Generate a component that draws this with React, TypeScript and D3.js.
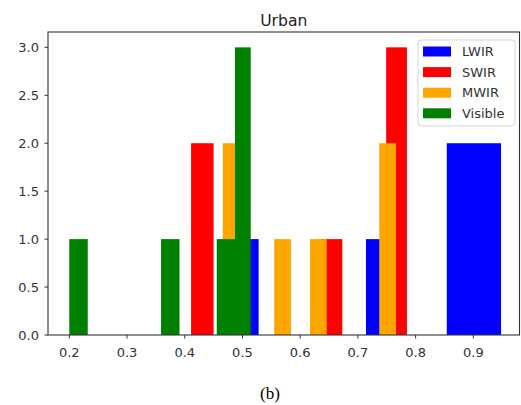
import React from 'react';
import { scaleLinear } from 'd3';

// histogram bins: left edge, right edge, count
const lwirStart = [0.481, 0.714, 0.854];
const lwirEnd = [0.528, 0.761, 0.948];
const lwirCount = [1, 1, 2];

const swirStart = [0.411, 0.636, 0.749];
const swirEnd = [0.45, 0.673, 0.785];
const swirCount = [2, 1, 3];

const mwirStart = [0.466, 0.555, 0.617, 0.737];
const mwirEnd = [0.495, 0.584, 0.646, 0.766];
const mwirCount = [2, 1, 1, 2];

const visStart = [0.2, 0.359, 0.4555, 0.487];
const visEnd = [0.232, 0.391, 0.487, 0.5143];
const visCount = [1, 1, 1, 3];

const seriesNames = ['LWIR', 'SWIR', 'MWIR', 'Visible'];
const seriesColors = ['#0000ff', '#ff0000', '#ffa500', '#008000'];

const xTicks = [0.2, 0.3, 0.4, 0.5, 0.6, 0.7, 0.8, 0.9];
const yTicks = [0, 0.5, 1, 1.5, 2, 2.5, 3];

const width = 521;
const height = 405;
const margin = { top: 32, right: 1.5, bottom: 70, left: 48 };
const plotRight = width - margin.right;
const plotBottom = height - margin.bottom;

const series = [
  { start: lwirStart, end: lwirEnd, count: lwirCount },
  { start: swirStart, end: swirEnd, count: swirCount },
  { start: mwirStart, end: mwirEnd, count: mwirCount },
  { start: visStart, end: visEnd, count: visCount },
];

export default function App() {
  const xScale = scaleLinear().domain([0.1631, 0.98]).range([margin.left, plotRight]);
  const yScale = scaleLinear().domain([0, 3.16]).range([plotBottom, margin.top]);

  const font = 'DejaVu Sans, sans-serif';
  const axisColor = '#333';

  return (
    <svg
      width={width}
      height={height}
      style={{ position: 'absolute', left: 0, top: 0, background: '#fff' }}>
      <text
        x={(margin.left + plotRight) / 2}
        y={25.5}
        textAnchor='middle'
        fontFamily={font}
        fontSize={15.6}
        fill='#222'>
        Urban
      </text>

      {series.map((s, si) =>
        s.start.map((x0, i) => (
          <rect
            key={`${si}-${i}`}
            x={xScale(x0)}
            y={yScale(s.count[i])}
            width={xScale(s.end[i]) - xScale(x0)}
            height={yScale(0) - yScale(s.count[i])}
            fill={seriesColors[si]}
          />
        ))
      )}

      <rect
        x={margin.left}
        y={margin.top}
        width={plotRight - margin.left}
        height={plotBottom - margin.top}
        fill='none'
        stroke={axisColor}
        strokeWidth={1.1}
      />

      {xTicks.map(t => (
        <g key={t} transform={`translate(${xScale(t)}, ${plotBottom})`}>
          <line y2={3.5} stroke={axisColor} />
          <text
            y={21.5}
            textAnchor='middle'
            fontFamily={font}
            fontSize={13}
            fill='#333'>
            {t.toFixed(1)}
          </text>
        </g>
      ))}

      {yTicks.map(t => (
        <g key={t} transform={`translate(${margin.left}, ${yScale(t)})`}>
          <line x2={-3.5} stroke={axisColor} />
          <text
            x={-9}
            dy='.35em'
            textAnchor='end'
            fontFamily={font}
            fontSize={13}
            fill='#333'>
            {t.toFixed(1)}
          </text>
        </g>
      ))}

      <g transform='translate(418, 40)'>
        <rect
          width={97}
          height={86}
          rx={3}
          fill='#fff'
          fillOpacity={0.8}
          stroke='#d6d6d6'
        />
        {seriesNames.map((name, i) => (
          <g key={name} transform={`translate(0, ${11.5 + i * 20.6})`}>
            <rect x={5} y={-5} width={28} height={10} fill={seriesColors[i]} />
            <text
              x={44}
              dy='.35em'
              fontFamily={font}
              fontSize={13}
              fill='#333'>
              {name}
            </text>
          </g>
        ))}
      </g>

      <text
        x={270}
        y={399}
        textAnchor='middle'
        fontFamily='Liberation Serif, serif'
        fontSize={17}
        fill='#000'>
        (b)
      </text>
    </svg>
  );
}
